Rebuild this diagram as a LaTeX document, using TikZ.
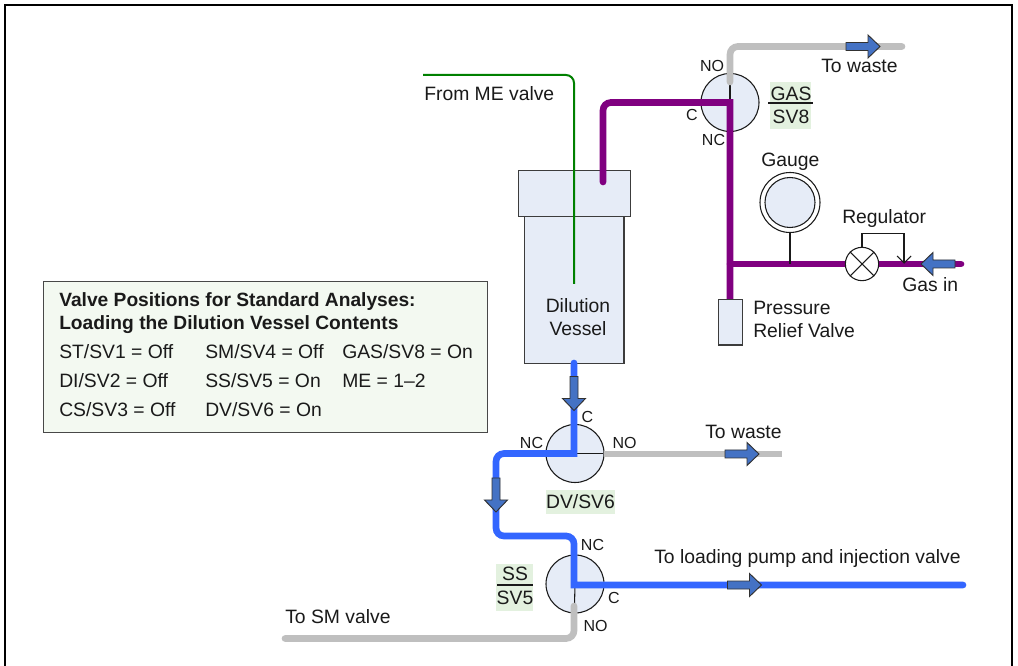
\documentclass[tikz,border=0pt]{standalone}
\usepackage{fontspec}
\setmainfont{Liberation Sans}
\usetikzlibrary{calc}
\definecolor{fillb}{HTML}{E6ECF7}
\definecolor{pipeg}{HTML}{BFBFBF}
\definecolor{pipeb}{HTML}{3366FF}
\definecolor{pipep}{HTML}{800080}
\definecolor{pipegr}{HTML}{008000}
\definecolor{arrowb}{HTML}{4472C4}
\definecolor{labg}{HTML}{E3F1DF}
\definecolor{boxg}{HTML}{F3F9F1}
\definecolor{ink}{HTML}{1A1A1A}
\tikzset{
  x=0.75pt,y=-0.75pt,
  txt/.style={font=\fontsize{14.5pt}{17pt}\selectfont,text=ink,inner sep=0pt,anchor=base,yshift=-0.6pt},
  port/.style={font=\fontsize{12pt}{14pt}\selectfont,text=ink,inner sep=0pt,anchor=base},
  pipe/.style={line width=#1,line cap=round,rounded corners=6pt},
  valve/.style={circle,draw=ink,fill=fillb,line width=0.8pt,minimum size=43.5pt,inner sep=0pt},
  vessel/.style={draw=ink!85,fill=fillb,line width=0.9pt},
  thin line/.style={draw=ink,line width=0.8pt},
  tag/.style={fill=labg,inner sep=0pt},
}
% flow arrow: #1 position, #2 rotation
\newcommand{\flowarrow}[3]{%
  \node[inner sep=0pt,minimum size=0pt] (#3) at #1 {};
  \fill[arrowb,draw=ink!90,line width=0.7pt,rotate around={#2:#1},shift={#1}]
    (-17,-4) -- (5,-4) -- (5,-11.5) -- (17,0) -- (5,11.5) -- (5,4) -- (-17,4) -- cycle;
}
\begin{document}
\begin{tikzpicture}
\useasboundingbox (0,0) rectangle (1018,666);
\fill[white] (0,0) rectangle (1018,666);
% frame
\draw[black,line width=1.6pt] (5,666) -- (5,5) -- (1012,5) -- (1012,666);

% info box
\node[draw=ink!80,fill=boxg,line width=0.7pt,minimum width=333pt,minimum height=113pt,inner sep=0pt,anchor=north west] (infobox) at (43,281) {};
\begin{scope}[every node/.style={txt,anchor=base west}]
\node[font=\fontsize{14.4pt}{17pt}\bfseries] (t1) at (59,306) {Valve Positions for Standard Analyses:};
\node[font=\fontsize{14.4pt}{17pt}\bfseries] (t2) at (59,329) {Loading the Dilution Vessel Contents};
\node (a1) at (59,358) {ST/SV1 = Off};
\node (a2) at (59,387) {DI/SV2 = Off};
\node (a3) at (59,416) {CS/SV3 = Off};
\node (b1) at (205,358) {SM/SV4 = Off};
\node (b2) at (205,387) {SS/SV5 = On};
\node (b3) at (205,416) {DV/SV6 = On};
\node (c1) at (342,358) {GAS/SV8 = On};
\node (c2) at (342,387) {ME = 1–2};
\end{scope}

% vessel
\node[vessel,minimum width=74.5pt,minimum height=110pt,inner sep=0pt,anchor=north west] (body) at (524,216) {};
\node[vessel,minimum width=84pt,minimum height=34.5pt,inner sep=0pt,anchor=north west] (cap) at (518,170) {};
\node[txt] (dil1) at (578,312) {Dilution};
\node[txt] (dil2) at (578,335) {Vessel};

% green line
\coordinate (mefree) at (423,75);
\coordinate (mecorner) at (574,75);
\coordinate (meend) at (574,284);
\draw[pipegr,line width=1.5pt,rounded corners=6pt] (mefree) -- (mecorner) -- (meend);

% valves
\node[valve] (gas) at (730,102.5) {};
\node[valve] (dv) at (575,453.5) {};
\node[valve] (ss) at (575,584) {};
\node[draw=ink,line width=0.8pt,fill=white,circle,minimum size=45pt,inner sep=0pt] (gaugeO) at (790,202.5) {};
\node[draw=ink,line width=0.8pt,fill=fillb,circle,minimum size=37.5pt,inner sep=0pt] (gaugeI) at (790,202.5) {};

% stubs in valves
\draw[thin line] (gas.center) -- (730,80);
\draw[thin line] (dv.center) -- (603,453.5);
\draw[thin line] (ss.center) -- (574.5,606);

% grey pipes
\coordinate (gw) at (902,46.5);
\draw[pipe=5pt,pipeg] (730,82) -- (730,46.5) -- (gw);
\coordinate (dw) at (782,454);
\draw[pipeg,line width=5pt] (603.5,454) -- (dw);
\coordinate (smfree) at (285,638.5);
\draw[pipe=5pt,pipeg] (574,606) -- (574,638.5) -- (smfree);

% purple pipes
\coordinate (vin) at (603,182);
\draw[pipep,line width=5pt,line cap=round,rounded corners=6pt] (vin) -- (603,102.5) [sharp corners] -- (730,102.5) -- (730,299);
\coordinate (gasin) at (961,264);
\draw[pipep,line width=5pt,line cap=round] (730,264) -- (gasin);

% relief
\node[vessel,minimum width=18pt,minimum height=34pt,inner sep=0pt,anchor=north west] (relief) at (718,299) {};

% gauge stem, regulator
\draw[thin line] (gaugeO) -- (790,264);
\node[circle,draw=ink,fill=white,line width=0.8pt,minimum size=25pt,inner sep=0pt] (reg) at (862,264) {};
\draw[thin line] (reg.north west) -- (reg.south east);
\draw[thin line] (reg.north east) -- (reg.south west);
\coordinate (fb) at (904,263);
\draw[thin line] (reg.north) -- (862,233.5) -- (904,233.5) -- (fb);
\draw[thin line] (897,256) -- (fb) -- (911,256);

% blue pipes
\coordinate (dvtop) at (574,363);
\coordinate (pumpend) at (963,585);
\draw[pipeb,line width=5pt,line cap=round] (dvtop) -- (574,453.5) [rounded corners=6pt] -- (496,453.5) -- (496,536) -- (574,536) [sharp corners] -- (574,585) -- (pumpend);

% flow arrows
\flowarrow{(863,46.5)}{0}{fa1}
\flowarrow{(742,454)}{0}{fa2}
\flowarrow{(744.5,585)}{0}{fa3}
\flowarrow{(574,393.5)}{-90}{fa4}
\flowarrow{(496,495)}{-90}{fa5}
\flowarrow{(938,264)}{180}{fa6}

% pipe labels
\node[txt,anchor=base west] (lme) at (424,100) {From ME valve};
\node[txt,anchor=base west] (lw1) at (821,72) {To waste};
\node[txt,anchor=base west] (lg) at (761,166) {Gauge};
\node[txt,anchor=base west] (lr) at (842,223) {Regulator};
\node[txt,anchor=base west] (lgi) at (902,291) {Gas in};
\node[txt,anchor=base west] (lp1) at (753,314) {Pressure};
\node[txt,anchor=base west] (lp2) at (753,337) {Relief Valve};
\node[txt,anchor=base west] (lw2) at (705,438) {To waste};
\node[txt,anchor=base west] (lpump) at (654,563) {To loading pump and injection valve};
\node[txt,anchor=base west] (lsm) at (285,623) {To SM valve};

% port labels
\node[port] (p1) at (712,72) {NO};
\node[port] (p2) at (692,121) {C};
\node[port] (p3) at (713.5,146) {NC};
\node[port] (p4) at (587.5,423) {C};
\node[port] (p5) at (531.5,449) {NC};
\node[port] (p6) at (624.5,449) {NO};
\node[port] (p7) at (592.5,551) {NC};
\node[port] (p8) at (614,604) {C};
\node[port] (p9) at (595.5,631) {NO};

% tags
\fill[labg] (770,82) rectangle (811,129);
\node[txt] (gas1) at (791,100) {GAS};
\node[txt] (gas2) at (791,123) {SV8};
\draw[ink,line width=0.9pt] (768,103) -- (813,103);
\node[txt,tag,anchor=center,minimum width=52pt,minimum height=18pt] (dvtag) at (580.5,501) {DV/SV6};
\fill[labg] (496,564) rectangle (533,611);
\node[txt] (ss1) at (515,580) {SS};
\node[txt] (ss2) at (515,604) {SV5};
\draw[ink,line width=0.9pt] (497,585) -- (533,585);
\end{tikzpicture}
\end{document}
